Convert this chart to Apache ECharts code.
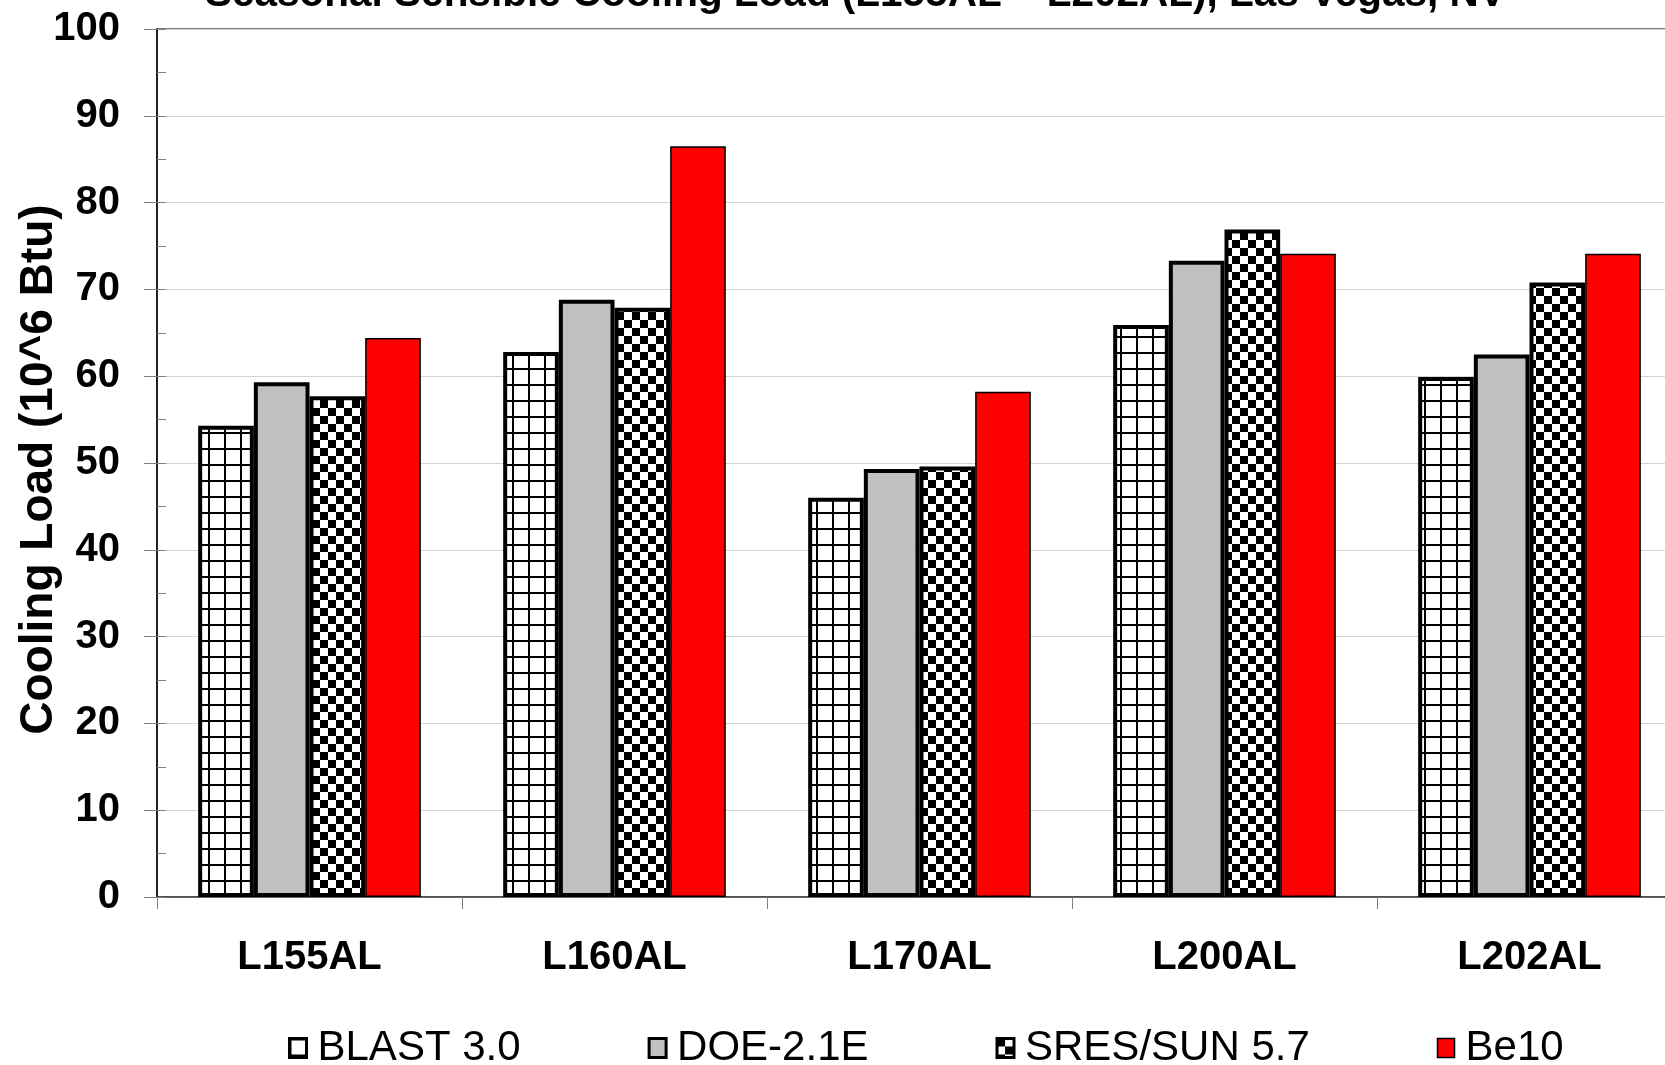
<!DOCTYPE html>
<html>
<head>
<meta charset="utf-8">
<script src="https://cdn.jsdelivr.net/npm/echarts@6/dist/echarts.min.js"></script>
<style>
html,body{margin:0;padding:0;background:#fff;}
#chart{width:1665px;height:1065px;}
</style>
</head>
<body>
<div id="chart"></div>
<script>
const titleText = 'Seasonal Sensible Cooling Load (L155AL \u2013 L202AL), Las Vegas, NV';
const yAxisName = 'Cooling Load (10^6 Btu)';
const categories = ['L155AL', 'L160AL', 'L170AL', 'L200AL', 'L202AL'];
const seriesNames = ['BLAST 3.0', 'DOE-2.1E', 'SRES/SUN 5.7', 'Be10'];
const blast = [54.3, 62.8, 46.0, 65.9, 59.9];
const doe = [59.3, 68.8, 49.3, 73.3, 62.5];
const sres = [57.7, 67.9, 49.6, 76.9, 70.8];
const be10 = [64.4, 86.5, 58.2, 74.1, 74.1];

const FONT = "'Liberation Sans', Arial, sans-serif";

function gridPattern() {
  const c = document.createElement('canvas');
  c.width = 16; c.height = 16;
  const g = c.getContext('2d');
  g.fillStyle = '#ffffff'; g.fillRect(0, 0, 16, 16);
  g.fillStyle = '#000000';
  g.fillRect(0, 0, 2, 16);
  g.fillRect(0, 0, 16, 2);
  return { image: c, repeat: 'repeat' };
}
function checkerPattern() {
  const c = document.createElement('canvas');
  c.width = 16; c.height = 16;
  const g = c.getContext('2d');
  g.fillStyle = '#ffffff'; g.fillRect(0, 0, 16, 16);
  g.fillStyle = '#000000';
  g.fillRect(0, 0, 8, 8);
  g.fillRect(8, 8, 8, 8);
  return { image: c, repeat: 'repeat' };
}

const chart = echarts.init(document.getElementById('chart'), null, { renderer: 'canvas' });

const thick = { borderColor: '#000', borderWidth: 4 };

chart.setOption({
  animation: false,
  backgroundColor: '#ffffff',
  title: {
    text: titleText,
    left: 205,
    top: -26,
    padding: 0,
    textStyle: { fontFamily: FONT, fontSize: 40.5, fontWeight: 'bold', color: '#000' }
  },
  legend: {
    left: 288,
    top: 1027,
    padding: 0,
    itemGap: 127,
    itemWidth: 17,
    itemHeight: 19,
    icon: 'rect',
    textStyle: { fontFamily: FONT, fontSize: 42, color: '#000', padding: [0, 0, 0, 6] },
    data: [
      { name: seriesNames[0], itemStyle: { borderColor: '#000', borderWidth: 3 } },
      { name: seriesNames[1], itemStyle: { borderColor: '#000', borderWidth: 3 } },
      { name: seriesNames[2], itemStyle: { borderColor: '#000', borderWidth: 3 } },
      { name: seriesNames[3], itemStyle: { borderColor: '#000', borderWidth: 1.5 } }
    ]
  },
  grid: {
    left: 157,
    top: 29,
    width: 1525,
    height: 868,
    outerBoundsMode: 'none',
    containLabel: false,
    show: true,
    borderColor: '#808080',
    borderWidth: 2,
    backgroundColor: 'transparent'
  },
  xAxis: {
    type: 'category',
    data: categories,
    axisLine: { lineStyle: { color: '#404040', width: 1.5 } },
    axisTick: { show: true, length: 12, lineStyle: { color: '#808080', width: 1 } },
    axisLabel: { fontFamily: FONT, fontSize: 40, fontWeight: 'bold', color: '#000', margin: 41 },
    splitLine: { show: false }
  },
  yAxis: [{
    type: 'value',
    min: 0,
    max: 100,
    interval: 10,
    name: yAxisName,
    nameLocation: 'middle',
    nameRotate: 90,
    nameGap: 95,
    nameMoveOverlap: false,
    nameTextStyle: { fontFamily: FONT, fontSize: 46, fontWeight: 'bold', color: '#000', padding: [0, 13, 0, 0] },
    axisLine: { show: true, lineStyle: { color: '#000', width: 1.5 } },
    axisTick: { show: true, length: 13, lineStyle: { color: '#808080', width: 1 } },
    axisLabel: { fontFamily: FONT, fontSize: 40, fontWeight: 'bold', color: '#000', margin: 37 },
    splitLine: { show: true, lineStyle: { color: '#d4d4d4', width: 1 } }
  }, {
    type: 'value',
    min: 0,
    max: 100,
    interval: 5,
    position: 'left',
    axisLine: { show: false },
    axisTick: { show: true, inside: true, length: 9, lineStyle: { color: '#808080', width: 1 } },
    axisLabel: { show: false },
    splitLine: { show: false }
  }],
  series: [
    { name: seriesNames[0], type: 'bar', data: blast, barGap: '0%', barCategoryGap: '27%', z: 2,
      itemStyle: Object.assign({ color: gridPattern() }, thick) },
    { name: seriesNames[1], type: 'bar', data: doe, z: 3,
      itemStyle: Object.assign({ color: '#c0c0c0' }, thick) },
    { name: seriesNames[2], type: 'bar', data: sres, z: 4,
      itemStyle: Object.assign({ color: checkerPattern() }, thick) },
    { name: seriesNames[3], type: 'bar', data: be10, z: 1,
      itemStyle: { color: '#ff0000', borderColor: '#000', borderWidth: 1.5 } }
  ]
});
</script>
</body>
</html>
